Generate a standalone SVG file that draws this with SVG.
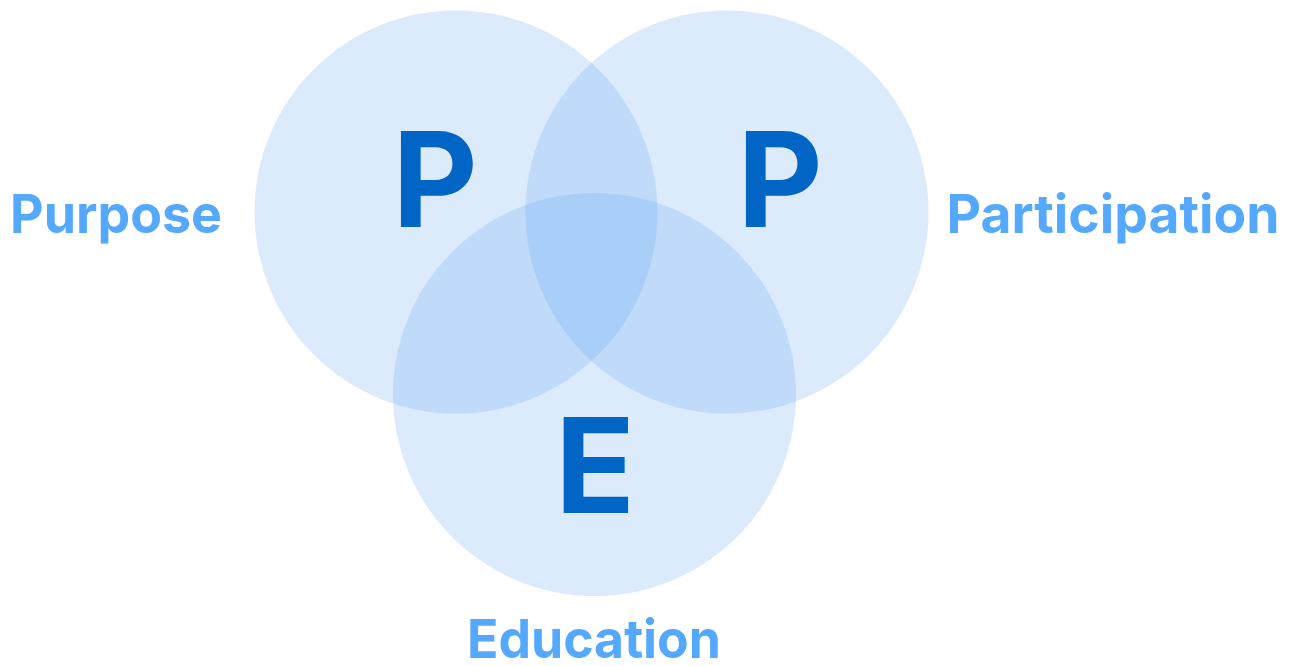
<svg xmlns="http://www.w3.org/2000/svg" width="1296" height="666" viewBox="0 0 1296 666">
<style>
.c{fill:#509bf0;fill-opacity:0.2}
.big{font-family:Inter,"Liberation Sans",sans-serif;font-weight:700;font-size:132px;fill:#0065c4;text-anchor:middle}
.lbl{font-family:Inter,"Liberation Sans",sans-serif;font-weight:700;font-size:54px;fill:#54a9ff;text-anchor:middle}
</style>
<rect width="1296" height="666" fill="#ffffff"/>
<g id="purpose">
<circle class="c" cx="456" cy="212" r="201.5"/>
<text class="big" x="435" y="227">P</text>
<text class="lbl" x="116" y="233" textLength="212" lengthAdjust="spacingAndGlyphs">Purpose</text>
</g>
<g id="participation">
<circle class="c" cx="727" cy="212" r="201.5"/>
<text class="big" x="780" y="227">P</text>
<text class="lbl" x="1113" y="233" textLength="333" lengthAdjust="spacingAndGlyphs">Participation</text>
</g>
<g id="education">
<circle class="c" cx="594.5" cy="394.5" r="201.5"/>
<text class="big" x="595" y="513">E</text>
<text class="lbl" x="594" y="658" textLength="254" lengthAdjust="spacingAndGlyphs">Education</text>
</g>
<g id="connectors"/>
</svg>
